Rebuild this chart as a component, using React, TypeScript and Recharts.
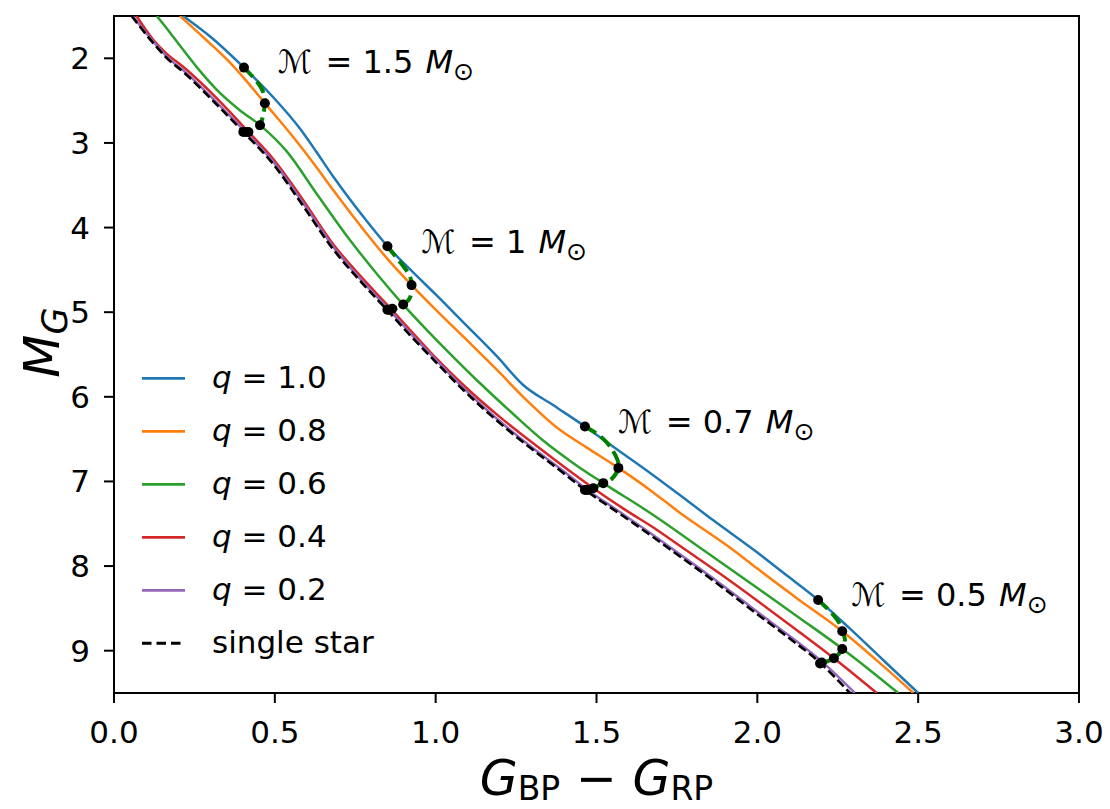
import React from 'react';
import {
  ComposedChart,
  Line,
  Scatter,
  XAxis,
  YAxis,
  ReferenceArea,
  ReferenceDot,
  Legend,
} from 'recharts';

type P = [number, number];

// ---- isochrone curves: [G_BP - G_RP, M_G] ----
const q10: P[] = [
  [0.215, 1.5], [0.298, 1.74], [0.404, 2.11], [0.495, 2.46], [0.578, 2.83], [0.63, 3.11],
  [0.682, 3.4], [0.785, 3.92], [0.85, 4.22], [0.93, 4.53], [1.0, 4.79], [1.086, 5.12],
  [1.19, 5.52], [1.272, 5.86], [1.366, 6.1], [1.464, 6.35], [1.552, 6.59], [1.656, 6.87],
  [1.759, 7.16], [1.863, 7.46], [2.0, 7.84], [2.081, 8.08], [2.189, 8.4], [2.288, 8.74],
  [2.391, 9.11], [2.5, 9.5],
];
const q08: P[] = [
  [0.205, 1.5], [0.28, 1.76], [0.35, 2.01], [0.41, 2.26], [0.469, 2.53], [0.557, 2.93],
  [0.63, 3.29], [0.682, 3.56], [0.785, 4.07], [0.85, 4.37], [0.925, 4.68], [1.0, 4.97],
  [1.086, 5.29], [1.19, 5.68], [1.272, 6.0], [1.386, 6.39], [1.47, 6.6], [1.568, 6.84],
  [1.666, 7.1], [1.759, 7.37], [1.925, 7.81], [2.0, 8.03], [2.13, 8.4], [2.264, 8.77],
  [2.391, 9.18], [2.485, 9.5],
];
const q06: P[] = [
  [0.133, 1.5], [0.175, 1.7], [0.215, 1.9], [0.265, 2.14], [0.319, 2.37], [0.39, 2.61],
  [0.454, 2.79], [0.537, 3.1], [0.63, 3.6], [0.734, 4.15], [0.82, 4.56], [0.899, 4.91],
  [0.975, 5.22], [1.055, 5.53], [1.138, 5.84], [1.24, 6.2], [1.335, 6.52], [1.43, 6.79],
  [1.521, 7.02], [1.666, 7.37], [1.832, 7.81], [2.0, 8.26], [2.13, 8.61], [2.265, 8.98],
  [2.35, 9.23], [2.438, 9.5],
];
const q04: P[] = [
  [0.07, 1.5], [0.122, 1.78], [0.165, 1.95], [0.215, 2.1], [0.319, 2.47], [0.418, 2.87],
  [0.495, 3.19], [0.578, 3.62], [0.682, 4.2], [0.785, 4.65], [0.863, 4.97], [0.935, 5.27],
  [1.003, 5.55], [1.086, 5.86], [1.2, 6.24], [1.303, 6.55], [1.4, 6.83], [1.49, 7.08],
  [1.587, 7.33], [1.687, 7.57], [1.77, 7.79], [1.88, 8.08], [2.0, 8.41], [2.12, 8.75],
  [2.238, 9.09], [2.371, 9.5],
];
const q02: P[] = [
  [0.058, 1.5], [0.126, 1.82], [0.17, 2.0], [0.221, 2.16], [0.316, 2.51], [0.408, 2.87],
  [0.501, 3.25], [0.584, 3.69], [0.688, 4.26], [0.776, 4.65], [0.855, 4.97], [0.927, 5.27],
  [1.0, 5.56], [1.093, 5.92], [1.197, 6.28], [1.3, 6.6], [1.388, 6.85], [1.472, 7.1],
  [1.568, 7.35], [1.675, 7.63], [1.737, 7.8], [1.882, 8.2], [2.01, 8.57], [2.091, 8.8],
  [2.207, 9.15], [2.303, 9.5],
];
const single: P[] = [
  [0.055, 1.5], [0.122, 1.82], [0.165, 2.0], [0.215, 2.16], [0.31, 2.51], [0.402, 2.87],
  [0.495, 3.25], [0.578, 3.69], [0.682, 4.26], [0.77, 4.65], [0.848, 4.97], [0.92, 5.27],
  [0.993, 5.56], [1.086, 5.92], [1.19, 6.28], [1.293, 6.6], [1.38, 6.85], [1.464, 7.1],
  [1.56, 7.35], [1.666, 7.63], [1.728, 7.8], [1.873, 8.2], [2.0, 8.57], [2.081, 8.8],
  [2.197, 9.15], [2.288, 9.5],
];

// ---- constant-mass tracks (green dashed) ----
const track15: P[] = [
  [0.404, 2.11], [0.427, 2.2], [0.459, 2.36], [0.469, 2.53], [0.463, 2.68], [0.454, 2.79],
  [0.436, 2.84], [0.418, 2.87], [0.404, 2.87],
];
const track10: P[] = [
  [0.85, 4.22], [0.879, 4.36], [0.915, 4.54], [0.925, 4.68], [0.92, 4.83], [0.899, 4.91],
  [0.88, 4.95], [0.863, 4.97], [0.85, 4.97],
];
const track07: P[] = [
  [1.464, 6.35], [1.495, 6.42], [1.532, 6.54], [1.56, 6.7], [1.568, 6.84], [1.547, 6.97],
  [1.521, 7.02], [1.49, 7.08], [1.466, 7.1],
];
const track05: P[] = [
  [2.189, 8.4], [2.22, 8.51], [2.251, 8.65], [2.264, 8.77], [2.272, 8.86], [2.264, 8.98],
  [2.238, 9.09], [2.197, 9.15],
];

// ---- dots: q = 1.0, 0.8, 0.6, 0.4, 0.2, single ----
const dots15: P[] = [[0.404, 2.11], [0.469, 2.53], [0.454, 2.79], [0.418, 2.87], [0.41, 2.87], [0.402, 2.87]];
const dots10: P[] = [[0.85, 4.22], [0.925, 4.68], [0.899, 4.91], [0.865, 4.96], [0.855, 4.97], [0.85, 4.97]];
const dots07: P[] = [[1.464, 6.35], [1.568, 6.84], [1.521, 7.02], [1.49, 7.08], [1.472, 7.1], [1.464, 7.1]];
const dots05: P[] = [[2.189, 8.4], [2.264, 8.77], [2.264, 8.98], [2.238, 9.09], [2.2, 9.14], [2.195, 9.15]];

// ---- annotations ----
const massNames = ['1.5', '1', '0.7', '0.5'];
const massLabelPos: P[] = [[0.51, 2.17], [0.956, 4.3], [1.568, 6.43], [2.293, 8.476]];

const xTicks = [0, 0.5, 1, 1.5, 2, 2.5, 3];
const yTicks = [2, 3, 4, 5, 6, 7, 8, 9];

const FONT = '"DejaVu Sans", Verdana, sans-serif';

const toObj = (arr: P[]) => arr.map(([x, y]) => ({ x, y }));

const curves = [
  { label: '1.0', data: q10, color: '#1f77b4', dash: undefined as string | undefined, width: 2.5 },
  { label: '0.8', data: q08, color: '#ff7f0e', dash: undefined, width: 2.5 },
  { label: '0.6', data: q06, color: '#2ca02c', dash: undefined, width: 2.5 },
  { label: '0.4', data: q04, color: '#d62728', dash: undefined, width: 2.5 },
  { label: '0.2', data: q02, color: '#9467bd', dash: undefined, width: 2.5 },
  { label: 'single', data: single, color: '#000000', dash: '9 4', width: 2.6 },
];

const tracks = [track15, track10, track07, track05];
const allDots = [...dots15, ...dots10, ...dots07, ...dots05];

const XLabel = (props: any) => {
  const vb = props.viewBox || { x: 114, y: 693, width: 965, height: 116 };
  const cx = vb.x + vb.width / 2;
  const y = vb.y + 102;
  return (
    <text x={cx} y={y} textAnchor="middle" fontFamily={FONT} fontSize={49} fill="#000" style={{ whiteSpace: 'pre' }}>
      <tspan fontStyle="italic">G</tspan>
      <tspan fontSize={33} dy={5}>BP</tspan>
      <tspan dy={-5}>{' \u2212 '}</tspan>
      <tspan fontStyle="italic">G</tspan>
      <tspan fontSize={33} dy={5}>RP</tspan>
    </text>
  );
};

const YLabel = (props: any) => {
  const vb = props.viewBox || { x: 0, y: 16, width: 114, height: 677 };
  const cy = vb.y + vb.height / 2 - 12;
  const x = 59;
  return (
    <text x={x} y={cy} transform={`rotate(-90 ${x} ${cy})`} textAnchor="middle" fontFamily={FONT} fontSize={50} fill="#000">
      <tspan fontStyle="italic">M</tspan>
      <tspan fontStyle="italic" fontSize={35} dy={8}>G</tspan>
    </text>
  );
};

const MassLabel = (props: any) => {
  const vb = props.viewBox;
  const x = vb.x + (vb.width || 0) / 2;
  const y = vb.y + (vb.height || 0) / 2;
  return (
    <text x={x} y={y} fontFamily={FONT} fontSize={32} fill="#000" style={{ whiteSpace: 'pre' }}>
      <tspan>{'\u2133'}</tspan>
      <tspan dx={3}>{` = ${props.mass} `}</tspan>
      <tspan dx={2} fontStyle="italic">M</tspan>
      <tspan fontSize={25} dy={7}>{'\u2299'}</tspan>
    </text>
  );
};

const LegendBox = () => (
  <svg width={320} height={330} style={{ overflow: 'visible', display: 'block' }}>
    {curves.map((c, i) => {
      const y = 28.3 + i * 53;
      return (
        <g key={c.label}>
          <line x1={0} x2={43} y1={y} y2={y} stroke={c.color} strokeWidth={c.width + 0.3} strokeDasharray={c.dash ? '9.5 5' : undefined} />
          <text x={70} y={y + 9.5} fontFamily={FONT} fontSize={31} fill="#000" style={{ whiteSpace: 'pre' }}>
            {c.label === 'single' ? (
              <tspan>single star</tspan>
            ) : (
              <>
                <tspan fontStyle="italic">q</tspan>
                <tspan>{` = ${c.label}`}</tspan>
              </>
            )}
          </text>
        </g>
      );
    })}
  </svg>
);

export default function App() {
  return (
    <div style={{ position: 'absolute', left: 0, top: 0, width: 1110, height: 809, background: '#fff' }}>
      <ComposedChart width={1110} height={809} margin={{ top: 16, right: 31, bottom: 0, left: 0 }}>
        <XAxis
          type="number"
          dataKey="x"
          domain={[0, 3]}
          ticks={xTicks}
          allowDataOverflow
          tickFormatter={(v: number) => v.toFixed(1)}
          height={116}
          tickSize={10}
          tickMargin={18}
          axisLine={false}
          tickLine={{ stroke: '#000', strokeWidth: 2 }}
          tick={{ fill: '#000', fontSize: 31, fontFamily: FONT }}
          label={<XLabel />}
        />
        <YAxis
          type="number"
          domain={[1.5, 9.5]}
          ticks={yTicks}
          reversed
          allowDataOverflow
          width={114}
          tickSize={10}
          tickMargin={14}
          axisLine={false}
          tickLine={{ stroke: '#000', strokeWidth: 2 }}
          tick={{ fill: '#000', fontSize: 31, fontFamily: FONT }}
          label={<YLabel />}
        />
        <ReferenceArea x1={0} x2={3} y1={1.5} y2={9.5} fill="none" fillOpacity={0} stroke="#000" strokeWidth={2} />
        {curves.map((c) => (
          <Line
            key={c.label}
            data={toObj(c.data)}
            dataKey="y"
            type="monotone"
            stroke={c.color}
            strokeWidth={c.width}
            strokeDasharray={c.dash}
            dot={false}
            activeDot={false}
            isAnimationActive={false}
          />
        ))}
        {tracks.map((t, i) => (
          <Line
            key={'track' + i}
            data={toObj(t)}
            dataKey="y"
            type="natural"
            stroke="#008000"
            strokeWidth={4}
            strokeDasharray="13 6"
            dot={false}
            activeDot={false}
            isAnimationActive={false}
          />
        ))}
        <Scatter
          data={toObj(allDots)}
          dataKey="y"
          fill="#000"
          isAnimationActive={false}
          shape={(p: any) => <circle cx={p.cx} cy={p.cy} r={5} fill="#000" />}
        />
        {massNames.map((m, i) => (
          <ReferenceDot
            key={'m' + m}
            x={massLabelPos[i][0]}
            y={massLabelPos[i][1]}
            r={1}
            fill="none"
            stroke="none"
            label={<MassLabel mass={m} />}
          />
        ))}
        <Legend
          layout="vertical"
          align="center"
          verticalAlign="middle"
          wrapperStyle={{ left: 141.7, top: 350, width: 320, height: 330 }}
          content={<LegendBox />}
        />
      </ComposedChart>
    </div>
  );
}
